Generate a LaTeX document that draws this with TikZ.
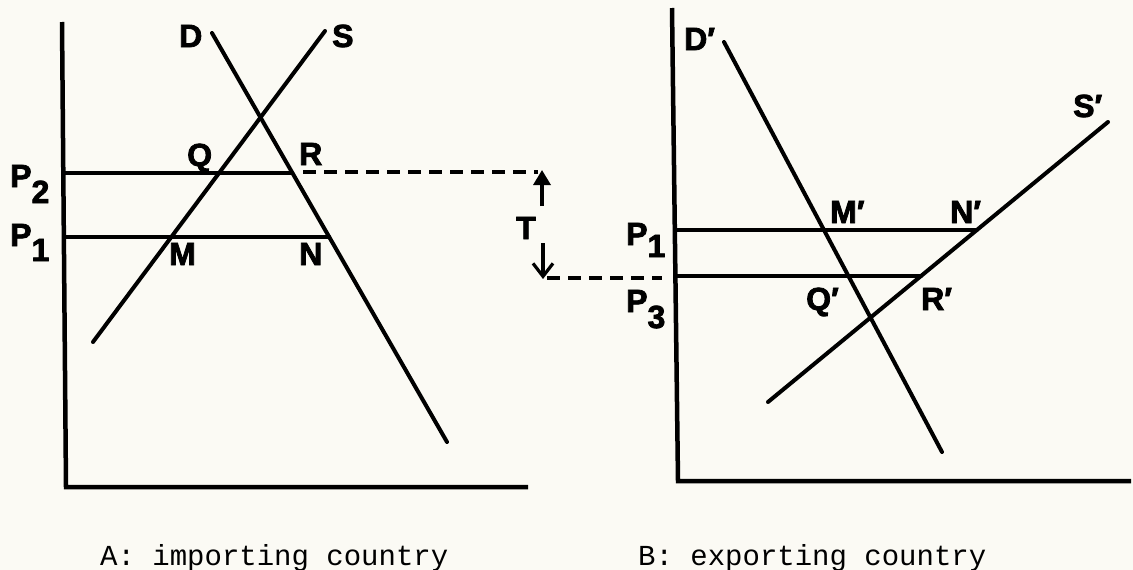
\documentclass[tikz,border=0pt]{standalone}
\usepackage{fontspec}
\setmainfont{Liberation Sans}
\newfontfamily\labfont[FakeBold=2.5]{Liberation Sans Bold}
\newfontfamily\capfont{Liberation Mono}
\usetikzlibrary{arrows.meta}
\definecolor{paper}{RGB}{251,250,244}
\newcommand{\lowsub}[2]{\raisebox{-#1pt}{#2}}
\begin{document}
\begin{tikzpicture}[x=1pt,y=-1pt,
  curve/.style={line width=4pt, line cap=round},
  axisline/.style={line width=4.5pt, line join=miter},
  lab/.style={font=\labfont\fontsize{32}{34}\selectfont, inner sep=0pt, anchor=base west},
  captext/.style={font=\capfont\fontsize{29}{32}\selectfont, inner sep=0pt, anchor=base west},
  dashline/.style={line width=3.6pt, dash pattern=on 13pt off 8pt},
  tarrow/.style={line width=3.4pt}
]
\fill[paper] (0,0) rectangle (1133,570);
\useasboundingbox (0,0) rectangle (1133,570);

% ---------------- Panel A: importing country ----------------
\coordinate (Ay) at (62,22);
\coordinate (Ao) at (66,487);
\coordinate (Ax) at (528,487);
\draw[axisline] (Ay) -- (Ao) -- (Ax);

\coordinate (Dt) at (212,33);
\coordinate (Db) at (447,442);
\coordinate (St) at (325,31);
\coordinate (Sb) at (93,342);
\draw[curve] (Dt) -- (Db);
\draw[curve] (Sb) -- (St);

\coordinate (P2a) at (63,173);
\coordinate (Rpt) at (292.4,173);
\coordinate (P1a) at (64,237);
\coordinate (Npt) at (329.2,237);
\draw[curve] (P2a) -- (Rpt);
\draw[curve] (P1a) -- (Npt);

\coordinate (DashA) at (303,172);
\coordinate (DashB) at (538,172);
\draw[dashline] (DashA) -- (DashB);

\coordinate (Tu1) at (542,206);
\coordinate (Tu2) at (542,170);
\draw[tarrow,-{Triangle[width=17pt,length=15pt]}] (Tu1) -- (Tu2);
\coordinate (Td1) at (543,243);
\coordinate (Td2) at (543,279);
\draw[tarrow,-{Straight Barb[width=20pt,length=13pt,line width=3.2pt]}] (Td1) -- (Td2);
\node[lab] (lT) at (516,239) {T};

\coordinate (DashC) at (547,278);
\coordinate (DashD) at (662,278);
\draw[dashline] (DashC) -- (DashD);

\node[lab] (lD) at (179,47) {D};
\node[lab] (lS) at (332,47) {S};
\node[lab] (lQ) at (187,166) {Q};
\node[lab] (lR) at (299,165) {R};
\node[lab] (lM) at (169,265) {M};
\node[lab] (lN) at (299,265) {N};
\node[lab] (lP2) at (10,187) {P\lowsub{16}{2}};
\node[lab] (lP1a) at (10,246) {P\lowsub{15}{1}};

% ---------------- Panel B: exporting country ----------------
\coordinate (By) at (672,8);
\coordinate (Bo) at (678,481);
\coordinate (Bx) at (1131,481);
\draw[axisline] (By) -- (Bo) -- (Bx);

\coordinate (Dpt) at (724,42);
\coordinate (Dpb) at (942,452);
\coordinate (Spt) at (1108,122);
\coordinate (Spb) at (768,402);
\draw[curve] (Dpt) -- (Dpb);
\draw[curve] (Spb) -- (Spt);

\coordinate (Q1a) at (675,230);
\coordinate (Npp) at (976.9,230);
\coordinate (Q3a) at (676,276);
\coordinate (Rpp) at (921,276);
\draw[curve] (Q1a) -- (Npp);
\draw[curve] (Q3a) -- (Rpp);

\node[lab] (lDp) at (684,50) {D′};
\node[lab] (lSp) at (1073,117) {S′};
\node[lab] (lMp) at (830,223) {M′};
\node[lab] (lNp) at (950,223) {N′};
\node[lab] (lQp) at (806,310) {Q′};
\node[lab] (lRp) at (921,310) {R′};
\node[lab] (lP1b) at (626,245) {P\lowsub{12}{1}};
\node[lab] (lP3) at (626,312) {P\lowsub{16}{3}};

% ---------------- Captions ----------------
\node[captext] (capA) at (100,565) {A: importing country};
\node[captext] (capB) at (638,565) {B: exporting country};
\end{tikzpicture}
\end{document}
